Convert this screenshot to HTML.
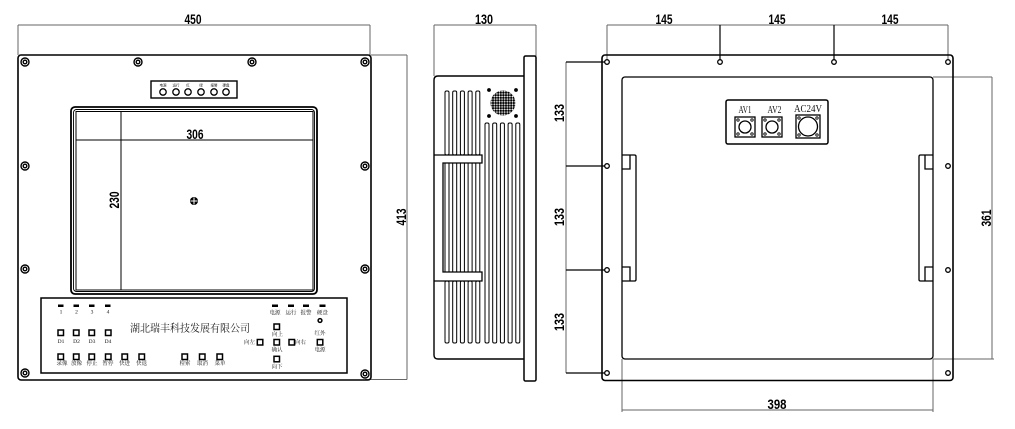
<!DOCTYPE html>
<html><head><meta charset="utf-8"><style>
html,body{margin:0;padding:0;background:#fff;}
svg{display:block;}
.dim{font-family:"Liberation Sans",sans-serif;font-weight:bold;font-size:14px;fill:#000;}
.cn{font-family:"Liberation Serif","Noto Serif CJK SC",serif;font-size:5.5px;fill:#111;}
.ser{font-family:"Liberation Serif",serif;fill:#111;}
</style></head><body>
<svg width="1015" height="429" viewBox="0 0 1015 429" xmlns="http://www.w3.org/2000/svg">
<defs>
<pattern id="dots" x="0.3" y="0.3" width="2.6" height="2.6" patternUnits="userSpaceOnUse">
<circle cx="1.3" cy="1.3" r="1.15" fill="#000"/>
</pattern>
</defs>
<rect width="1015" height="429" fill="#fff"/>

<!-- ================= LEFT VIEW ================= -->
<g stroke="#666" stroke-width="1" fill="none">
<line x1="18" y1="25" x2="370" y2="25"/>
<line x1="18" y1="25" x2="18" y2="55"/>
<line x1="370" y1="25" x2="370" y2="55"/>
<line x1="371" y1="55" x2="407" y2="55"/>
<line x1="365" y1="379.5" x2="407" y2="379.5"/>
<line x1="407" y1="55" x2="407" y2="379.5"/>
</g>
<text class="dim" x="193" y="24" text-anchor="middle" textLength="17" lengthAdjust="spacingAndGlyphs">450</text>
<text class="dim" transform="translate(406,217) rotate(-90)" text-anchor="middle" textLength="17" lengthAdjust="spacingAndGlyphs">413</text>

<rect x="18" y="55" width="353" height="325" rx="3" fill="none" stroke="#000" stroke-width="1.6"/>
<!-- screws -->
<g fill="none" stroke="#000" stroke-width="1.4">
<circle cx="25" cy="62" r="4"/><circle cx="25" cy="62" r="1.8"/>
<circle cx="138" cy="62" r="4"/><circle cx="138" cy="62" r="1.8"/>
<circle cx="252" cy="62" r="4"/><circle cx="252" cy="62" r="1.8"/>
<circle cx="365" cy="62" r="4"/><circle cx="365" cy="62" r="1.8"/>
<circle cx="25" cy="166" r="4"/><circle cx="25" cy="166" r="1.8"/>
<circle cx="365" cy="166" r="4"/><circle cx="365" cy="166" r="1.8"/>
<circle cx="25" cy="269" r="4"/><circle cx="25" cy="269" r="1.8"/>
<circle cx="365" cy="269" r="4"/><circle cx="365" cy="269" r="1.8"/>
<circle cx="25" cy="373" r="4"/><circle cx="25" cy="373" r="1.8"/>
<circle cx="365" cy="374" r="4"/><circle cx="365" cy="374" r="1.8"/>
</g>
<!-- LED strip -->
<rect x="151" y="81" width="86" height="17" fill="none" stroke="#000" stroke-width="1.4"/>
<g fill="none" stroke="#000" stroke-width="1.3">
<circle cx="163" cy="92" r="3.2"/><circle cx="176" cy="92" r="3.2"/><circle cx="188" cy="92" r="3.2"/>
<circle cx="201" cy="92" r="3.2"/><circle cx="214" cy="92" r="3.2"/><circle cx="226" cy="92" r="3.2"/>
</g>
<g font-family="Liberation Sans, Noto Sans CJK SC, sans-serif" font-size="3.5" text-anchor="middle" fill="#222">
<text x="163" y="86.5">电源</text><text x="176" y="86.5">运行</text><text x="188" y="86.5">红</text>
<text x="201" y="86.5">绿</text><text x="214" y="86.5">报警</text><text x="226" y="86.5">硬盘</text>
</g>
<!-- screen -->
<rect x="71" y="107" width="246" height="187" rx="4" fill="none" stroke="#000" stroke-width="1.8"/>
<rect x="73.5" y="109.5" width="241" height="182" rx="3" fill="none" stroke="#000" stroke-width="0.9"/>
<rect x="76" y="111.5" width="237" height="178.5" fill="none" stroke="#000" stroke-width="1"/>
<line x1="76" y1="140" x2="313" y2="140" stroke="#000" stroke-width="1"/>
<line x1="121" y1="111" x2="121" y2="290" stroke="#000" stroke-width="1"/>
<text class="dim" x="195" y="139" text-anchor="middle" textLength="17" lengthAdjust="spacingAndGlyphs">306</text>
<text class="dim" transform="translate(119,200) rotate(-90)" text-anchor="middle" textLength="17" lengthAdjust="spacingAndGlyphs">230</text>
<circle cx="194" cy="201" r="4" fill="#000"/>
<line x1="190.5" y1="201" x2="197.5" y2="201" stroke="#fff" stroke-width="1"/>
<line x1="194" y1="197.5" x2="194" y2="204.5" stroke="#fff" stroke-width="1"/>

<!-- control panel -->
<rect x="41" y="298" width="306" height="75" fill="none" stroke="#000" stroke-width="1.5"/>
<g fill="#000">
<rect x="58" y="304.5" width="5.5" height="2.5"/><rect x="73.5" y="304.5" width="5.5" height="2.5"/>
<rect x="89" y="304.5" width="5.5" height="2.5"/><rect x="105" y="304.5" width="5.5" height="2.5"/>
<rect x="272" y="304.5" width="6" height="2.5"/><rect x="288" y="304.5" width="6" height="2.5"/>
<rect x="303" y="304.5" width="6" height="2.5"/><rect x="319.5" y="304.5" width="6" height="2.5"/>
</g>
<g class="cn" text-anchor="middle">
<text x="61" y="313.5">1</text><text x="76.5" y="313.5">2</text><text x="92" y="313.5">3</text><text x="108" y="313.5">4</text>
<text x="275" y="314.5">电源</text><text x="291" y="314.5">运行</text><text x="306" y="314.5">报警</text><text x="322.5" y="314.5">硬盘</text>
<text x="61" y="343">D1</text><text x="76.5" y="343">D2</text><text x="92" y="343">D3</text><text x="108" y="343">D4</text>
<text x="62" y="365">录像</text><text x="76.5" y="365">放像</text><text x="92" y="365">停止</text>
<text x="108" y="365">暂停</text><text x="124.5" y="365">快进</text><text x="141.5" y="365">快退</text>
<text x="185" y="365">检索</text><text x="202.5" y="365">取消</text><text x="220" y="365">菜单</text>
<text x="277.5" y="336">向上</text>
<text x="249.5" y="344">向左</text>
<text x="300.5" y="344">向右</text>
<text x="277" y="351.7">确认</text>
<text x="277" y="368.3">向下</text>
<text x="320" y="335">红外</text>
<text x="320" y="351.7">电源</text>
</g>
<text x="130" y="331.5" font-family="Liberation Serif, Noto Serif CJK SC, serif" font-size="10.5" fill="#222" textLength="120" lengthAdjust="spacingAndGlyphs">湖北瑞丰科技发展有限公司</text>
<g fill="none" stroke="#000" stroke-width="1.5">
<rect x="58" y="330" width="5.5" height="5.5"/><rect x="73.5" y="330" width="5.5" height="5.5"/>
<rect x="89" y="330" width="5.5" height="5.5"/><rect x="105.5" y="330" width="5.5" height="5.5"/>
<rect x="58" y="354" width="5.5" height="5.5"/><rect x="73.5" y="354" width="5.5" height="5.5"/>
<rect x="89" y="354" width="5.5" height="5.5"/><rect x="105.5" y="354" width="5.5" height="5.5"/>
<rect x="122" y="354" width="5.5" height="5.5"/><rect x="139" y="354" width="5.5" height="5.5"/>
<rect x="182" y="354" width="5.5" height="5.5"/><rect x="199.5" y="354" width="5.5" height="5.5"/>
<rect x="217" y="354" width="5.5" height="5.5"/>
<rect x="274" y="324" width="5.5" height="5.5"/>
<rect x="257.3" y="339.5" width="5.5" height="5.5"/>
<rect x="274" y="339.5" width="5.5" height="5.5"/>
<rect x="289" y="339.5" width="5.5" height="5.5"/>
<rect x="274" y="356.3" width="5.5" height="5.5"/>
<rect x="317.3" y="339.5" width="5.5" height="5.5"/>
<circle cx="320" cy="320.5" r="1.9"/>
</g>

<!-- ================= MIDDLE VIEW ================= -->
<g stroke="#666" stroke-width="1" fill="none">
<line x1="434" y1="25" x2="536" y2="25"/>
<line x1="434" y1="25" x2="434" y2="76"/>
<line x1="536" y1="25" x2="536" y2="56"/>
</g>
<text class="dim" x="484" y="24" text-anchor="middle" textLength="18" lengthAdjust="spacingAndGlyphs">130</text>
<path d="M524,76 H438 Q434,76 434,80 V355 Q434,359 438,359 H524" fill="none" stroke="#000" stroke-width="1.4"/>
<rect x="524" y="56" width="12" height="325" rx="1.5" fill="none" stroke="#000" stroke-width="1.5"/>
<!-- fins -->
<g fill="none" stroke="#000" stroke-width="1">
<rect x="445" y="91" width="4" height="64" rx="1.5"/><rect x="452.7" y="91" width="4" height="64" rx="1.5"/>
<rect x="460.4" y="91" width="4" height="64" rx="1.5"/><rect x="468.1" y="91" width="4" height="64" rx="1.5"/>
<rect x="475.8" y="91" width="4" height="64" rx="1.5"/>
<rect x="445" y="163" width="4" height="109"/><rect x="452.7" y="163" width="4" height="109"/>
<rect x="460.4" y="163" width="4" height="109"/><rect x="468.1" y="163" width="4" height="109"/>
<rect x="475.8" y="163" width="4" height="109"/>
<rect x="445" y="281" width="4" height="62" rx="1.5"/><rect x="452.7" y="281" width="4" height="62" rx="1.5"/>
<rect x="460.4" y="281" width="4" height="62" rx="1.5"/><rect x="468.1" y="281" width="4" height="62" rx="1.5"/>
<rect x="475.8" y="281" width="4" height="62" rx="1.5"/>
<rect x="485" y="123" width="4" height="220" rx="1.5"/><rect x="492.7" y="123" width="4" height="220" rx="1.5"/>
<rect x="500.4" y="123" width="4" height="220" rx="1.5"/><rect x="508.1" y="123" width="4" height="220" rx="1.5"/>
<rect x="515.8" y="123" width="4" height="220" rx="1.5"/>
</g>
<path d="M434,155 H482 V163 H443 V272 H482 V281 H434" fill="none" stroke="#000" stroke-width="1.3"/>
<!-- speaker -->
<circle cx="503" cy="103" r="12.5" fill="url(#dots)"/>
<g fill="#000">
<circle cx="489" cy="90" r="1.9"/><circle cx="516" cy="90" r="1.9"/>
<circle cx="489" cy="116" r="1.9"/><circle cx="516" cy="116" r="1.9"/>
</g>

<!-- ================= RIGHT VIEW ================= -->
<g stroke="#666" stroke-width="1" fill="none">
<line x1="607" y1="25" x2="948" y2="25"/>
<line x1="607" y1="25" x2="607" y2="60"/>
<line x1="948" y1="25" x2="948" y2="60"/>
<line x1="566" y1="62" x2="566" y2="373"/>
<line x1="933" y1="77" x2="992" y2="77"/>
<line x1="933" y1="359" x2="994" y2="359"/>
<line x1="992" y1="77" x2="992" y2="359"/>
<line x1="622" y1="359" x2="622" y2="412"/>
<line x1="933" y1="359" x2="933" y2="412"/>
<line x1="622" y1="410" x2="933" y2="410"/>
</g>
<g stroke="#000" stroke-width="1.2" fill="none">
<line x1="720" y1="25" x2="720" y2="60"/>
<line x1="834" y1="25" x2="834" y2="60"/>
<line x1="566" y1="62" x2="605" y2="62"/>
<line x1="566" y1="166" x2="605" y2="166"/>
<line x1="566" y1="270" x2="605" y2="270"/>
<line x1="566" y1="373" x2="605" y2="373"/>
</g>
<text class="dim" x="664" y="24" text-anchor="middle" textLength="17" lengthAdjust="spacingAndGlyphs">145</text>
<text class="dim" x="777" y="24" text-anchor="middle" textLength="17" lengthAdjust="spacingAndGlyphs">145</text>
<text class="dim" x="890" y="24" text-anchor="middle" textLength="17" lengthAdjust="spacingAndGlyphs">145</text>
<text class="dim" transform="translate(564,113) rotate(-90)" text-anchor="middle" textLength="18" lengthAdjust="spacingAndGlyphs">133</text>
<text class="dim" transform="translate(564,217) rotate(-90)" text-anchor="middle" textLength="18" lengthAdjust="spacingAndGlyphs">133</text>
<text class="dim" transform="translate(564,322) rotate(-90)" text-anchor="middle" textLength="18" lengthAdjust="spacingAndGlyphs">133</text>
<text class="dim" transform="translate(991,218) rotate(-90)" text-anchor="middle" textLength="17" lengthAdjust="spacingAndGlyphs">361</text>
<text class="dim" x="777" y="409" text-anchor="middle" textLength="19" lengthAdjust="spacingAndGlyphs">398</text>

<rect x="602" y="55" width="351" height="325.5" rx="3" fill="none" stroke="#000" stroke-width="1.6"/>
<rect x="622" y="77" width="311" height="282" rx="3" fill="none" stroke="#000" stroke-width="1.3"/>
<g fill="#fff" stroke="#000" stroke-width="1.3">
<circle cx="607" cy="62" r="2.3"/><circle cx="720" cy="62" r="2.3"/><circle cx="834" cy="62" r="2.3"/><circle cx="948" cy="62" r="2.3"/>
<circle cx="607" cy="166" r="2.3"/><circle cx="607" cy="270" r="2.3"/><circle cx="607" cy="373" r="2.3"/>
<circle cx="948" cy="166" r="2.3"/><circle cx="948" cy="270" r="2.3"/><circle cx="948" cy="373" r="2.3"/>
</g>
<!-- handles -->
<g fill="none" stroke="#000" stroke-width="1.3">
<path d="M622,155 H634.5 Q636,155 636,156.5 V279.5 Q636,281 634.5,281 H622"/>
<path d="M622,169 H630 V155"/>
<path d="M622,267 H630 V281"/>
<path d="M933,155 H920.5 Q919,155 919,156.5 V279.5 Q919,281 920.5,281 H933"/>
<path d="M933,169 H925 V155"/>
<path d="M933,267 H925 V281"/>
</g>
<!-- connector box -->
<rect x="726" y="100" width="102" height="44" rx="2" fill="none" stroke="#000" stroke-width="1.5"/>
<text class="ser" x="745" y="113" font-size="10" text-anchor="middle" textLength="13" lengthAdjust="spacingAndGlyphs">AV1</text>
<text class="ser" x="774.5" y="113" font-size="10" text-anchor="middle" textLength="14" lengthAdjust="spacingAndGlyphs">AV2</text>
<text class="ser" x="808" y="112" font-size="10" text-anchor="middle" textLength="28" lengthAdjust="spacingAndGlyphs">AC24V</text>
<g fill="none" stroke="#000" stroke-width="1.3">
<rect x="735" y="117" width="20" height="20"/><circle cx="745" cy="127" r="6"/>
<rect x="762" y="117" width="20" height="20"/><circle cx="772" cy="127" r="6"/>
<rect x="796" y="115" width="24" height="23"/><circle cx="808" cy="126.5" r="9.5"/>
</g>
<g fill="none" stroke="#000" stroke-width="0.9">
<circle cx="738" cy="120" r="1.2"/><circle cx="752" cy="120" r="1.2"/><circle cx="738" cy="134" r="1.2"/><circle cx="752" cy="134" r="1.2"/>
<circle cx="765" cy="120" r="1.2"/><circle cx="779" cy="120" r="1.2"/><circle cx="765" cy="134" r="1.2"/><circle cx="779" cy="134" r="1.2"/>
<circle cx="799" cy="118" r="1.2"/><circle cx="817" cy="118" r="1.2"/><circle cx="799" cy="135" r="1.2"/><circle cx="817" cy="135" r="1.2"/>
</g>
</svg>
</body></html>
